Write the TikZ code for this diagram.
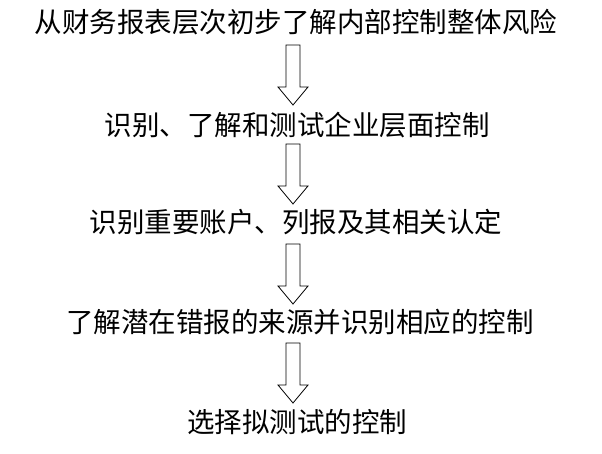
\documentclass[tikz,border=0pt]{standalone}
\usepackage{fontspec}
\setmainfont{Noto Sans CJK SC}
\usetikzlibrary{positioning, calc}
\tikzset{
	stage/.style={inner sep=0pt, font=\fontsize{27.5}{30}\selectfont},
	flow/.style={thick, draw=black, fill=white},
}
% hollow down arrow between two coordinates
\newcommand{\flowarrow}[2]{%
	\draw[flow] ($(#1)+(-7,0)$) -- ($(#1)+(7,0)$) -- ($(#2)+(7,-18)$) -- ($(#2)+(15,-18)$)
		-- (#2) -- ($(#2)+(-15,-18)$) -- ($(#2)+(-7,-18)$) -- cycle;}
\begin{document}
\begin{tikzpicture}[x=1pt, y=-1pt]
	\useasboundingbox (0,0) rectangle (602,454);

	\node[stage] (s1) at (296,22) {从财务报表层次初步了解内部控制整体风险};
	\node[stage] (s2) at (297,125) {识别、了解和测试企业层面控制};
	\node[stage] (s3) at (296,222) {识别重要账户、列报及其相关认定};
	\node[stage] (s4) at (300,322) {了解潜在错报的来源并识别相应的控制};
	\node[stage] (s5) at (297,422) {选择拟测试的控制};

	\coordinate (a1t) at (293,45);  \coordinate (a1b) at (293,105);
	\coordinate (a2t) at (293,144); \coordinate (a2b) at (293,204);
	\coordinate (a3t) at (293,244); \coordinate (a3b) at (293,304);
	\coordinate (a4t) at (293,343); \coordinate (a4b) at (293,403);
	\flowarrow{a1t}{a1b}
	\flowarrow{a2t}{a2b}
	\flowarrow{a3t}{a3b}
	\flowarrow{a4t}{a4b}
\end{tikzpicture}
\end{document}
